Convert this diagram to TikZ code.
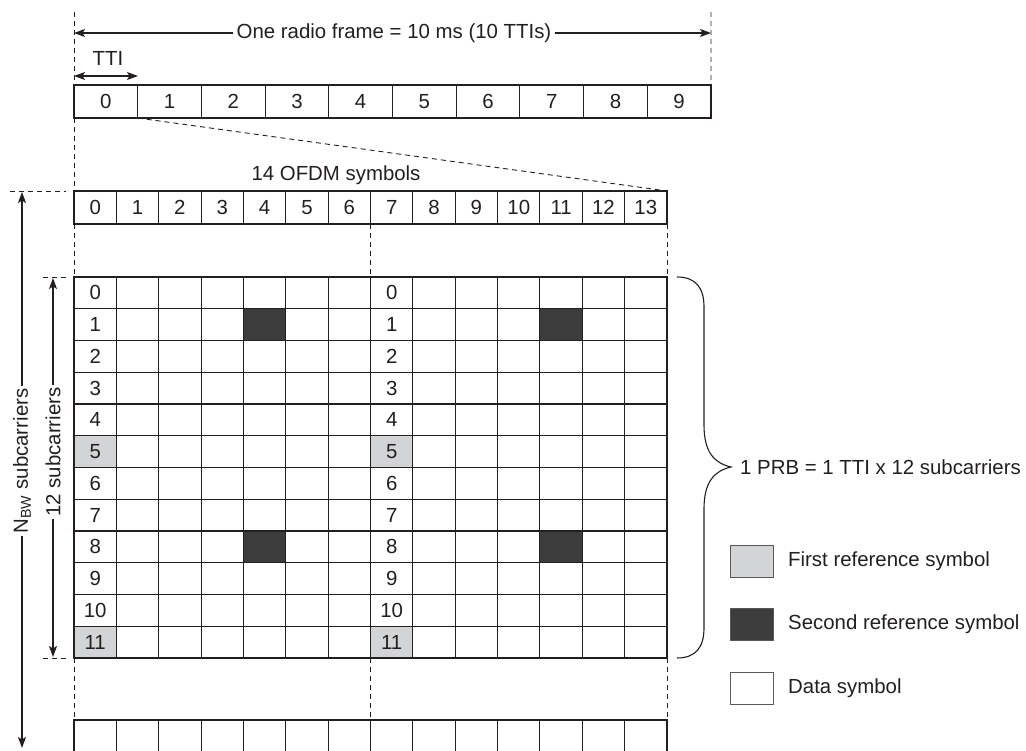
\documentclass[tikz,border=0pt]{standalone}
\usepackage{fontspec}
\setmainfont{Liberation Sans}
\usetikzlibrary{arrows.meta}
\definecolor{ink}{HTML}{231F20}
\definecolor{refA}{HTML}{D3D4D6}
\definecolor{refB}{HTML}{3C3C3C}
\newcommand\mydiagfont{\fontsize{20.4pt}{24pt}\selectfont}
\tikzset{
  basecell/.style={draw=ink, line width=1.1pt, inner sep=0pt, outer sep=0pt,
    anchor=north west, font=\mydiagfont, text=ink},
  fcell/.style={basecell, minimum width=63.7pt, minimum height=33pt},
  scell/.style={basecell, minimum width=42.357pt, minimum height=33pt},
  gcell/.style={basecell, minimum width=42.357pt, minimum height=31.75pt},
  dashline/.style={draw=ink, line width=0.9pt, dash pattern=on 5pt off 4pt},
  tip/.tip={Stealth[length=11pt,width=8pt,inset=2.5pt]},
  arr/.style={draw=ink, line width=1.1pt, -tip},
  dblarr/.style={draw=ink, line width=1.1pt, tip-tip},
  lbl/.style={font=\mydiagfont, text=ink, inner sep=3pt},
  legbox/.style={draw=ink!75, line width=1pt, minimum width=43pt, minimum height=32pt,
    inner sep=0pt, anchor=north west},
}
\begin{document}
\begin{tikzpicture}[x=1pt,y=-1pt]
\useasboundingbox (0,0) rectangle (1026,751);

% radio frame
\foreach \i in {0,...,9}{
  \node[fcell] (f\i) at ({74+63.7*\i},85) {\i};
}
% OFDM symbols row
\foreach \i in {0,...,13}{
  \node[scell] (s\i) at ({74+42.357*\i},191) {\i};
}
% resource grid
\foreach \r in {0,...,11}{
  \foreach \c in {0,...,13}{
    \def\lab{}\def\fc{white}%
    \ifnum\c=0 \def\lab{\r}\fi
    \ifnum\c=7 \def\lab{\r}\fi
    \ifnum\r=5 \ifnum\c=0 \def\fc{refA}\fi\ifnum\c=7 \def\fc{refA}\fi\fi
    \ifnum\r=11 \ifnum\c=0 \def\fc{refA}\fi\ifnum\c=7 \def\fc{refA}\fi\fi
    \ifnum\r=1 \ifnum\c=4 \def\fc{refB}\fi\ifnum\c=11 \def\fc{refB}\fi\fi
    \ifnum\r=8 \ifnum\c=4 \def\fc{refB}\fi\ifnum\c=11 \def\fc{refB}\fi\fi
    \node[gcell, fill=\fc] (g\r-\c) at ({74+42.357*\c},{277+31.75*\r}) {\lab};
  }
}
% bottom partial row (cut off by the page edge)
\begin{scope}
\clip (60,700) rectangle (700,751);
\foreach \c in {0,...,13}{
  \node[gcell, minimum height=45pt] (b\c) at ({74+42.357*\c},720) {};
}
\end{scope}

% dashed guides
\coordinate (topL) at (74,12);
\coordinate (topR) at (711,12);
\draw[dashline] (topL) -- (f0.north west);
\draw[dashline] (topR) -- (f9.north east);
\draw[dashline] (f0.south west) -- (s0.north west);
\draw[dashline] (f0.south east) -- (s13.north east);
\draw[dashline] (s0.south west) -- (g0-0.north west);
\draw[dashline] (s7.south west) -- (g0-7.north west);
\draw[dashline] (s13.south east) -- (g0-13.north east);
\draw[dashline] (g11-0.south west) -- (b0.north west);
\draw[dashline] (g11-7.south west) -- (b7.north west);
\draw[dashline] (g11-13.south east) -- (b13.north east);

% radio frame arrow
\node[lbl] (rf) at (394,33) {One radio frame = 10 ms (10 TTIs)};
\coordinate (rfL) at (74,33);
\coordinate (rfR) at (711,33);
\draw[arr] (rf.west) -- (rfL);
\draw[arr] (rf.east) -- (rfR);

% TTI
\node[lbl] (tti) at (108,58) {TTI};
\coordinate (ttiL) at (74,76);
\coordinate (ttiR) at (138,76);
\draw[dblarr] (ttiL) -- (ttiR);

% 14 OFDM symbols
\node[lbl] (ofdm) at (336,175) {14 OFDM symbols};

% N_BW subcarriers
\coordinate (nbwT) at (22,192);
\coordinate (nbwB) at (22,748);
\coordinate (nbwD1) at (10,191);
\coordinate (nbwD2) at (66,191);
\draw[dashline] (nbwD1) -- (nbwD2);
\node[lbl, rotate=90, inner sep=2pt] (nbw) at (22,461) {N\textsubscript{BW} subcarriers};
\draw[arr] (nbw.east) -- (nbwT);
\draw[arr] (nbw.west) -- (nbwB);

% 12 subcarriers
\coordinate (scT) at (53,278);
\coordinate (scB) at (53,657);
\coordinate (scD1) at (43,277);
\coordinate (scD2) at (66,277);
\coordinate (scD3) at (43,658);
\coordinate (scD4) at (66,658);
\draw[dashline] (scD1) -- (scD2);
\draw[dashline] (scD3) -- (scD4);
\node[lbl, rotate=90, inner sep=2pt] (sc) at (53,452) {12 subcarriers};
\draw[arr] (sc.east) -- (scT);
\draw[arr] (sc.west) -- (scB);

% brace
\coordinate (brT) at (677,277);
\coordinate (brTip) at (731,467);
\coordinate (brB) at (677,658);
\draw[draw=ink, line width=1.1pt]
  (brT) .. controls (696,277) and (704,288) .. (704,307)
  -- (704,425) .. controls (704,452) and (714,463) .. (brTip)
  .. controls (714,471) and (704,482) .. (704,509)
  -- (704,628) .. controls (704,647) and (696,658) .. (brB);
\node[lbl, anchor=west, inner sep=0pt] (prb) at (740,467) {1 PRB = 1 TTI x 12 subcarriers};

% legend
\node[legbox, fill=refA] (lg1) at (730,545) {};
\node[legbox, fill=refB] (lg2) at (730,608) {};
\node[legbox, fill=white] (lg3) at (730,672) {};
\node[lbl, anchor=west, inner sep=0pt] (lt1) at (788,561) {First reference symbol};
\node[lbl, anchor=west, inner sep=0pt] (lt2) at (788,624) {Second reference symbol};
\node[lbl, anchor=west, inner sep=0pt] (lt3) at (788,688) {Data symbol};
\end{tikzpicture}
\end{document}
